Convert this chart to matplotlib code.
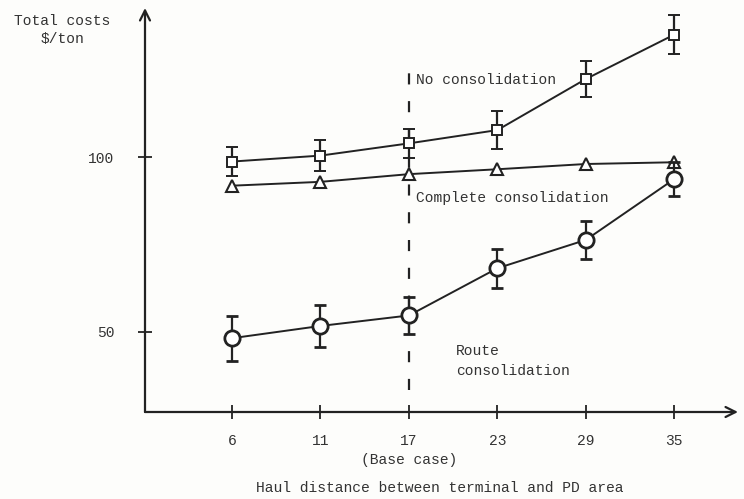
import numpy as np
import matplotlib
matplotlib.use("Agg")
import matplotlib.pyplot as plt

# -----------------------------------
# Data
# -----------------------------------
haul_labels = ["6", "11", "17", "23", "29", "35"]

no_consol = [98.7, 100.4, 103.9, 107.7, 122.3, 135.0]
no_consol_err = [4.1, 4.5, 4.1, 5.5, 5.1, 5.6]

complete_consol = [91.8, 92.9, 95.1, 96.5, 98.0, 98.5]

route_consol = [48.2, 51.7, 54.7, 68.2, 76.3, 93.7]
route_consol_err = [6.4, 5.9, 5.3, 5.6, 5.4, 4.8]

base_case_idx = 2
base_line_span = [33.4, 125.0]
y_ticks = [50, 100]

# -----------------------------------
# Style
# -----------------------------------
plt.rcParams['font.family'] = ['Liberation Mono', 'DejaVu Sans Mono']
ink = "#222222"
txt = "#333333"
fs = 10.5

fig = plt.figure(figsize=(7.44, 4.99), dpi=100)
fig.patch.set_facecolor("#fdfdfb")
ax = fig.add_axes([145 / 744, 1 - 412 / 499, (738 - 145) / 744, (412 - 8) / 499])
ax.set_facecolor("#fdfdfb")

x = np.arange(len(haul_labels))

# No consolidation
ax.errorbar(x, no_consol, yerr=no_consol_err, color=ink, lw=1.4,
            marker="s", ms=7, mfc="white", mec=ink, mew=1.4,
            capsize=4, capthick=1.6, elinewidth=1.6, zorder=3)

# Complete consolidation
ax.plot(x, complete_consol, color=ink, lw=1.4, marker="^", ms=9,
        mfc="white", mec=ink, mew=1.5, zorder=3)

# Route consolidation
ax.errorbar(x, route_consol, yerr=route_consol_err, color=ink, lw=1.4,
            marker="o", ms=11, mfc="white", mec=ink, mew=2.0,
            capsize=4, capthick=1.6, elinewidth=1.6, zorder=3)

# base case dashed line
ax.plot([base_case_idx, base_case_idx], base_line_span, color=ink, lw=1.6,
        dashes=(5, 7.5), zorder=2)

# -----------------------------------
# Axes
# -----------------------------------
ax.set_xlim(-0.984, 5.72)
ax.set_ylim(27.1, 142.6)
for s in ["top", "right", "left", "bottom"]:
    ax.spines[s].set_visible(False)

ax.annotate("", xy=(1.0, 0), xytext=(0, 0), xycoords="axes fraction",
            arrowprops=dict(arrowstyle="->", color=ink, lw=1.6,
                            mutation_scale=18, shrinkA=0, shrinkB=0))
ax.annotate("", xy=(0, 1.0), xytext=(0, 0), xycoords="axes fraction",
            arrowprops=dict(arrowstyle="->", color=ink, lw=1.6,
                            mutation_scale=18, shrinkA=0, shrinkB=0))

ax.set_xticks(x)
ax.set_xticklabels(haul_labels, fontsize=fs, color=txt)
ax.set_yticks(y_ticks)
ax.set_yticklabels([str(v) for v in y_ticks], fontsize=fs, color=txt)
ax.tick_params(axis="x", direction="inout", length=10, width=1.3, color=ink, pad=11)
ax.tick_params(axis="y", direction="inout", length=10, width=1.3, color=ink, pad=17)

# -----------------------------------
# Text
# -----------------------------------
ax.text(base_case_idx, -0.118, "(Base case)", transform=ax.get_xaxis_transform(),
        ha="center", va="center", fontsize=fs, color=txt)
fig.text(440 / 744, 1 - 488 / 499, "Haul distance between terminal and PD area",
         ha="center", va="center", fontsize=fs, color=txt)
fig.text(62 / 744, 1 - 30 / 499, "Total costs\n$/ton", ha="center", va="center",
         fontsize=fs, color=txt, linespacing=1.4)

ax.text(2.08, 122.0, "No consolidation", ha="left", va="center", fontsize=fs, color=txt)
ax.text(2.08, 88.3, "Complete consolidation", ha="left", va="center", fontsize=fs, color=txt)
ax.text(2.53, 41.7, "Route\nconsolidation", ha="left", va="center", fontsize=fs,
        color=txt, linespacing=1.6)

fig.savefig("out.png", dpi=100, facecolor=fig.get_facecolor())
